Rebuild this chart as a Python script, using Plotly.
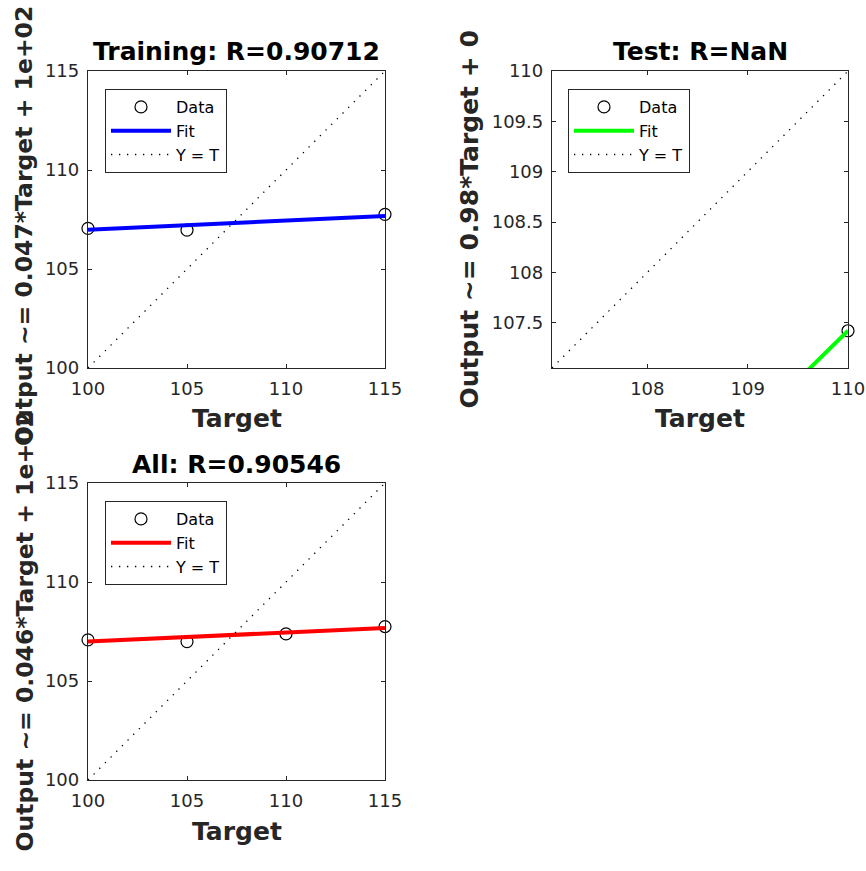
import plotly.graph_objects as go

W, H = 866, 871

# ---- data ----
train_target = [100, 105, 115]
train_output = [107.05, 106.96, 107.76]
train_fit_x = [100, 115]
train_fit_y = [106.98, 107.68]
train_diag = [100, 115]

test_target = [110]
test_output = [107.42]
test_fit_x = [107.05, 110]
test_fit_y = [104.53, 107.42]
test_diag = [107.05, 110]

all_target = [100, 105, 110, 115]
all_output = [107.08, 106.99, 107.38, 107.75]
all_fit_x = [100, 115]
all_fit_y = [106.99, 107.68]
all_diag = [100, 115]

train_ticks = [100, 105, 110, 115]
test_xticks = [108, 109, 110]
test_yticks = [107.5, 108, 108.5, 109, 109.5, 110]

titles = ["Training: R=0.90712", "Test: R=NaN", "All: R=0.90546"]
ylabels = ["Output ~= 0.047*Target + 1e+02",
           "Output ~= 0.98*Target + 0",
           "Output ~= 0.046*Target + 1e+02"]
fit_colors = ["#0000FF", "#00FF00", "#FF0000"]

# ---- layout boxes in page pixels (left, right, top, bottom) ----
boxes = [(88, 385, 71, 368), (552, 848, 71, 368), (88, 385, 483, 780)]

def px(x):
    return x / W

def py(y):
    return 1 - y / H

FONT = "DejaVu Sans"
AX = "#262626"

fig = go.Figure()

panels = [
    (train_target, train_output, train_fit_x, train_fit_y, train_diag),
    (test_target, test_output, test_fit_x, test_fit_y, test_diag),
    (all_target, all_output, all_fit_x, all_fit_y, all_diag),
]
legend_names = ["legend", "legend2", "legend3"]

for i, (t, o, fx, fy, dg) in enumerate(panels):
    xa = "x" if i == 0 else f"x{i+1}"
    ya = "y" if i == 0 else f"y{i+1}"
    lg = legend_names[i]
    fig.add_trace(go.Scatter(x=t, y=o, mode="markers", name="Data",
                             marker=dict(symbol="circle-open", size=12, color="black",
                                         line=dict(width=1.2, color="black")),
                             xaxis=xa, yaxis=ya, legend=lg, cliponaxis=False))
    fig.add_trace(go.Scatter(x=fx, y=fy, mode="lines", name="Fit",
                             line=dict(color=fit_colors[i], width=4),
                             xaxis=xa, yaxis=ya, legend=lg))
    fig.add_trace(go.Scatter(x=dg, y=dg, mode="lines", name="Y = T",
                             line=dict(color="black", width=1.3, dash="1.3px,6.7px"),
                             xaxis=xa, yaxis=ya, legend=lg))

def axis(domain, rng, ticks, anchor):
    return dict(domain=domain, range=rng, tickvals=ticks,
                ticktext=[f"{v:g}" for v in ticks],
                showline=True, linecolor=AX, linewidth=1.3, mirror="ticks",
                ticks="inside", ticklen=4, tickcolor=AX, tickwidth=1,
                showgrid=False, zeroline=False, anchor=anchor, automargin=False,
                tickfont=dict(family=FONT, size=18, color=AX),
                ticklabelstandoff=4, ticklabeloverflow="allow")

layout = {}
ranges = [([100, 115], [100, 115], train_ticks, train_ticks),
          ([107.05, 110], [107.05, 110], test_xticks, test_yticks),
          ([100, 115], [100, 115], train_ticks, train_ticks)]
for i, (l, r, t, b) in enumerate(boxes):
    xr, yr, xt, yt = ranges[i]
    xk = "xaxis" if i == 0 else f"xaxis{i+1}"
    yk = "yaxis" if i == 0 else f"yaxis{i+1}"
    xa = "x" if i == 0 else f"x{i+1}"
    ya = "y" if i == 0 else f"y{i+1}"
    layout[xk] = axis([px(l), px(r)], xr, xt, ya)
    layout[yk] = axis([py(b), py(t)], yr, yt, xa)

legend_pos = [(105, 89), (568, 89), (105, 501)]
for i, (lx, ly) in enumerate(legend_pos):
    layout[legend_names[i]] = dict(
        x=px(lx), y=py(ly), xanchor="left", yanchor="top",
        bgcolor="white", bordercolor=AX, borderwidth=1,
        font=dict(family=FONT, size=16, color="black"),
        tracegroupgap=0, itemwidth=60)

annotations = []
title_y = [52, 52, 465]
ylab_x = [24, 469, 24]
ylab_y = [226, 219.5, 631.5]
ylab_size = [23.5, 25, 23.5]
target_y = [418, 418, 831]
for i, (l, r, t, b) in enumerate(boxes):
    cx = (l + r) / 2
    annotations.append(dict(text=titles[i], x=px(cx), y=py(title_y[i]),
                            xref="paper", yref="paper", xanchor="center", yanchor="middle",
                            showarrow=False,
                            font=dict(family=FONT, size=25, color="black", weight="bold")))
    annotations.append(dict(text="Target", x=px(cx), y=py(target_y[i]),
                            xref="paper", yref="paper", xanchor="center", yanchor="middle",
                            showarrow=False,
                            font=dict(family=FONT, size=25, color=AX, weight="bold")))
    annotations.append(dict(text=ylabels[i], x=px(ylab_x[i]), y=py(ylab_y[i]),
                            xref="paper", yref="paper", xanchor="center", yanchor="middle",
                            textangle=-90, showarrow=False,
                            font=dict(family=FONT, size=ylab_size[i], color=AX, weight="bold")))

fig.update_layout(**layout)
fig.update_layout(width=W, height=H, margin=dict(l=0, r=0, t=0, b=0, autoexpand=False),
                  paper_bgcolor="white", plot_bgcolor="white",
                  showlegend=True, annotations=annotations)

fig.write_html("out.html", config={"displayModeBar": False},
               post_script="document.body.style.margin='0';document.body.style.overflow='hidden';")
